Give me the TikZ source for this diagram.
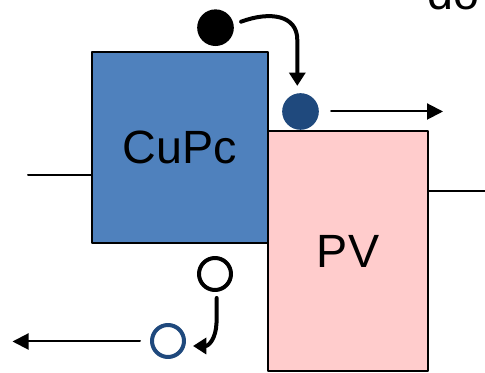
\documentclass[tikz,border=0pt]{standalone}
\usepackage{fontspec}
\setmainfont{Liberation Sans}
\usetikzlibrary{arrows.meta, calc, positioning}
\definecolor{cupcblue}{HTML}{4F81BD}
\definecolor{pvpink}{HTML}{FFCCCC}
\definecolor{chargeblue}{HTML}{1F497D}

\tikzset{
  layerbox/.style={draw=black, line width=1.5pt, inner sep=0pt, font=\fontsize{35}{40}\selectfont},
  carrier/.style={circle, inner sep=0pt, minimum size=27.5pt},
  hole/.style={circle, draw, line width=3pt, inner sep=0pt, minimum size=24pt},
  hop/.style={line width=3pt, -{Triangle[length=10pt, width=12pt]}},
  drift/.style={line width=1.5pt, -{Triangle[length=12pt, width=12pt]}}
}

\begin{document}
\begin{tikzpicture}[x=0.75pt, y=0.75pt, line cap=round, line join=round]
      \useasboundingbox (0,0) rectangle (485,373);
      \clip (0,0) rectangle (485,373);

      % Layers
      \node[layerbox, fill=cupcblue, minimum width=132pt, minimum height=143.25pt] (cupc) at (180,225.5) {CuPc};
      \node[layerbox, fill=pvpink, minimum width=120pt, minimum height=180pt] (pv) at (348,122) {PV};

      % Contacts
      \coordinate (lwire) at (28,198);
      \coordinate (rwire) at (485,182);
      \draw[line width=1.5pt] (lwire) -- (lwire -| cupc.west);
      \draw[line width=1.5pt] (pv.east |- rwire) -- (rwire);

      % Electron transfer
      \node[carrier, fill=black] (exciton) at (215.5,345.3) {};
      \node[carrier, fill=chargeblue] (electron) at (300.5,261.5) {};
      \draw[hop] ($(exciton.east)+(7,6)$) .. controls (270,362) and (297.3,358) .. (297.3,333) -- ($(electron.north)+(-3.2,7)$);
      \coordinate (eout) at (443,261.5);
      \draw[drift] ($(electron.east)+(12,0)$) -- (eout);

      % Hole transfer
      \node[hole, draw=black] (hstart) at (215,99) {};
      \node[hole, draw=chargeblue] (hole) at (168,32) {};
      \draw[hop] ($(hstart.south)+(1.7,-6)$) -- (216.5,50) .. controls (216,35) and (209,27) .. ($(hole.east)+(7,-5)$);
      \coordinate (hout) at (12.5,31.5);
      \draw[drift] ($(hole.west)+(-10,-0.5)$) -- (hout);

      % Clipped label
      \node[anchor=base west, inner sep=0pt, font=\fontsize{35}{40}\selectfont] (cutlabel) at (427,363) {do};
\end{tikzpicture}
\end{document}
